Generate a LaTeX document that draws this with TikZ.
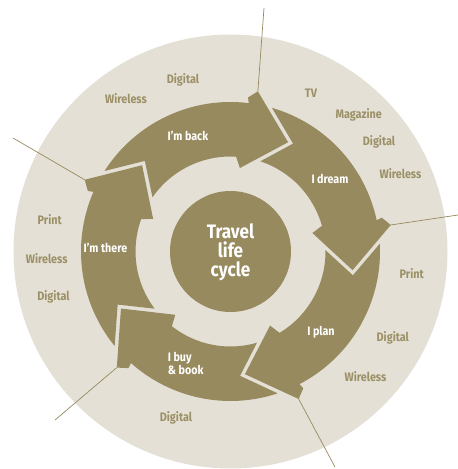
\documentclass[tikz,border=0pt]{standalone}
\usepackage{fontspec}
\setmainfont{Fira Sans}[FakeStretch=0.88]
\definecolor{olive}{HTML}{978A5E}
\definecolor{ringbg}{HTML}{E4E0D6}
\definecolor{labeltxt}{HTML}{9C9066}
\newcommand{\cycarrow}[2]{% #1 previous tip angle, #2 tip angle
  \fill[arrowfill] ({#1+11.7}:149.5pt)
    arc[start angle={#1+11.7}, end angle={#2+20.8}, radius=149.5pt]
    -- ({#2+21.3}:155pt) -- ({#2+18.1}:162.5pt) -- (#2:123.5pt)
    -- ({#2+21.4}:84pt) -- ({#2+24.4}:95pt)
    arc[start angle={#2+24.4}, end angle={#1+9.5}, radius=95pt]
    -- ({#1-2.3}:124.7pt) -- cycle;
}
\tikzset{
  arrowfill/.style={fill=olive},
  spoke/.style={draw=olive, line width=0.7pt},
  outlbl/.style={text=labeltxt, font=\bfseries\fontsize{12.3}{14}\selectfont, anchor=base, inner sep=0pt},
  inlbl/.style={text=white, font=\bfseries\fontsize{12.2}{14}\selectfont, anchor=base, inner sep=0pt},
  hublbl/.style={text=white, font=\bfseries\fontsize{19.5}{21}\selectfont, anchor=base, inner sep=0pt}
}
\begin{document}
\begin{tikzpicture}[x=1pt,y=1pt]
\useasboundingbox (0,0) rectangle (458,469);
\fill[white] (0,0) rectangle (458,469);
\coordinate (C) at (230.5,217.5);
\fill[ringbg] (C) circle[radius=217pt];
% spoke end points
\coordinate (eback) at (264,461);
\coordinate (edream) at (458,254);
\coordinate (eplan) at (335,2);
\coordinate (ebuy) at (55,49);
\coordinate (ethere) at (13,331);
\begin{scope}[shift={(C)}]
  \coordinate (bback) at ({62.2+18.1}:162.5pt);
  \coordinate (bdream) at ({-8.7+18.1}:162.5pt);
  \coordinate (bplan) at ({-83.3+18.1}:162.5pt);
  \coordinate (bbuy) at ({-152.5+18.1}:162.5pt);
  \coordinate (bthere) at ({135.7+18.1}:162.5pt);
\end{scope}
\draw[spoke] (bback) -- (eback);
\draw[spoke] (bdream) -- (edream);
\draw[spoke] (bplan) -- (eplan);
\draw[spoke] (bbuy) -- (ebuy);
\draw[spoke] (bthere) -- (ethere);
\begin{scope}[shift={(C)}]
  \cycarrow{135.7}{62.2}
  \cycarrow{62.2}{-8.7}
  \cycarrow{-8.7}{-83.3}
  \cycarrow{-83.3}{-152.5}
  \cycarrow{207.5}{135.7}
\end{scope}
\fill[olive] (C) circle[radius=60.5pt];
\node[hublbl] (hub1) at (230.5,230.5) {Travel};
\node[hublbl] (hub2) at (230.5,211.5) {life};
\node[hublbl] (hub3) at (230.5,192.5) {cycle};
% inner labels
\node[inlbl] (lback) at (188,328.3) {I’m back};
\node[inlbl] (ldream) at (330,285) {I dream};
\node[inlbl] (lthere) at (105.5,216.3) {I’m there};
\node[inlbl] (lplan) at (321,133) {I plan};
\node[inlbl, anchor=base west] (lbuy1) at (167.7,107.3) {I buy};
\node[inlbl, anchor=base west] (lbuy2) at (167.7,94.3) {\& book};
% outer labels
\node[outlbl] (o1) at (183,385) {Digital};
\node[outlbl] (o2) at (126,365.3) {Wireless};
\node[outlbl] (o3) at (311,371.3) {TV};
\node[outlbl] (o4) at (358.7,350) {Magazine};
\node[outlbl] (o5) at (379,323) {Digital};
\node[outlbl] (o6) at (400.5,290) {Wireless};
\node[outlbl] (o7) at (411.7,190.7) {Print};
\node[outlbl] (o8) at (392.8,127.3) {Digital};
\node[outlbl] (o9) at (365.5,87.3) {Wireless};
\node[outlbl] (o10) at (176,47.3) {Digital};
\node[outlbl] (o11) at (49.7,244) {Print};
\node[outlbl] (o12) at (46.7,205.7) {Wireless};
\node[outlbl] (o13) at (53.5,168) {Digital};
\end{tikzpicture}
\end{document}
